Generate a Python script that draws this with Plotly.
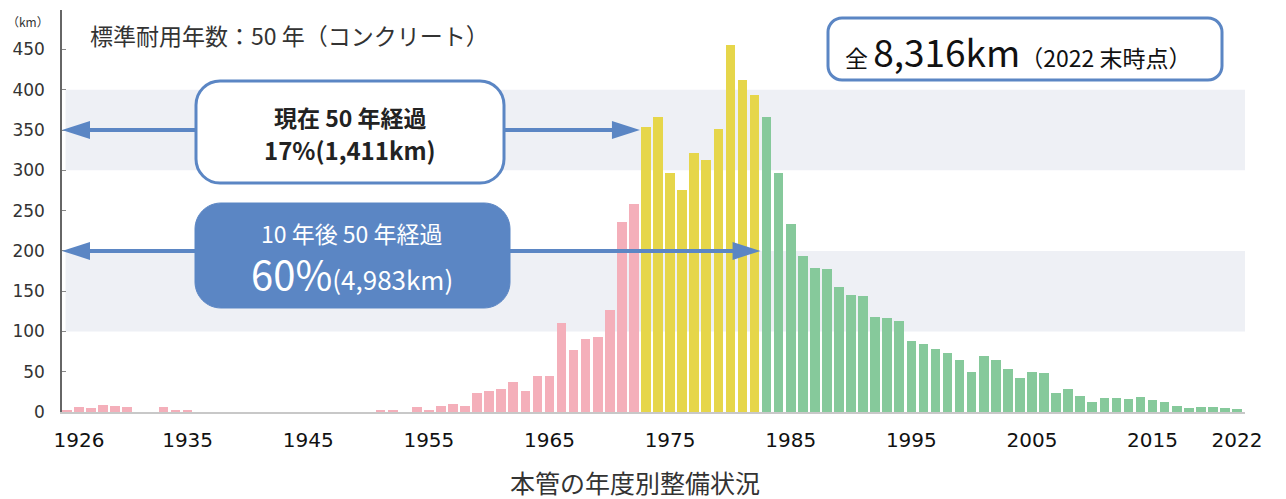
import plotly.graph_objects as go

# ---------------- data (km per fiscal year) ----------------
years_pink = list(range(1925, 1973))
km_pink = [3, 6, 5, 9, 8, 6, 0, 0, 6, 3, 3,
           0, 0, 0, 0, 0, 0, 0, 0, 0, 0, 0, 0, 0, 0, 0,
           3, 3, 0, 6, 2, 8, 10, 8, 24, 26, 29, 37, 26, 45, 45, 111, 77, 91, 93, 126, 236, 258]
years_yellow = list(range(1973, 1983))
km_yellow = [354, 366, 297, 275, 322, 313, 351, 455, 412, 393]
years_green = list(range(1983, 2023))
km_green = [366, 297, 233, 194, 179, 178, 155, 145, 144, 118, 117, 113, 88, 84, 78, 73, 65, 50, 69, 65,
            53, 42, 50, 49, 24, 29, 20, 13, 17, 17, 16, 19, 15, 13, 8, 5, 6, 6, 5, 4]
x_ticks = [1926, 1935, 1945, 1955, 1965, 1975, 1985, 1995, 2005, 2015, 2022]
y_ticks = [0, 50, 100, 150, 200, 250, 300, 350, 400, 450]
bands = [(100, 200), (300, 400)]
now_boundary = 1972.5      # built up to 1972 -> 50 years old now
future_boundary = 1982.5   # built up to 1982 -> 50 years old in 10 years

# ---------------- layout geometry ----------------
OFF = 8                      # page body margin
W, H = 1286 - OFF, 499 - OFF
# plot area in page pixels: x 62..1245, y 10..412
PL, PR, PT, PB = 62, 1245, 10, 412
ML, MR, MT, MB = PL - OFF, (W + OFF) - PR, PT - OFF, (H + OFF) - PB
PW, PH = PR - PL, PB - PT
XR = [1924.585, 2022.663]
YR = [0, 499]

def px_x(p):  # page pixel -> paper
    return (p - PL) / PW

def px_y(p):
    return (PB - p) / PH

def dx2px(v):  # data -> page pixel
    return PL + (v - XR[0]) / (XR[1] - XR[0]) * PW

def dy2px(v):
    return PB - (v - YR[0]) / (YR[1] - YR[0]) * PH

def pt(x, y):
    return f"{px_x(x):.5f},{px_y(y):.5f}"

def rrect(x0, y0, x1, y1, r):
    k = 0.5523 * r
    return (f"M {pt(x0 + r, y0)} L {pt(x1 - r, y0)} "
            f"C {pt(x1 - r + k, y0)} {pt(x1, y0 + r - k)} {pt(x1, y0 + r)} "
            f"L {pt(x1, y1 - r)} "
            f"C {pt(x1, y1 - r + k)} {pt(x1 - r + k, y1)} {pt(x1 - r, y1)} "
            f"L {pt(x0 + r, y1)} "
            f"C {pt(x0 + r - k, y1)} {pt(x0, y1 - r + k)} {pt(x0, y1 - r)} "
            f"L {pt(x0, y0 + r)} "
            f"C {pt(x0, y0 + r - k)} {pt(x0 + r - k, y0)} {pt(x0 + r, y0)} Z")

BLUE = "#5B86C4"
JP = "Noto Sans CJK JP"

fig = go.Figure()
for xs, ys, col in [(years_pink, km_pink, "#F4AFBA"),
                    (years_yellow, km_yellow, "#E6D64A"),
                    (years_green, km_green, "#86C99B")]:
    fig.add_trace(go.Bar(x=xs, y=ys, marker=dict(color=col, line=dict(width=0)),
                         width=0.8, showlegend=False))

shapes = []
for lo, hi in bands:
    shapes.append(dict(type="rect", xref="paper", yref="y", x0=0.003, x1=1, y0=lo, y1=hi,
                       fillcolor="#EEF0F5", line=dict(width=0), layer="below"))

def arrow(y_val, tip_x_val):
    y = dy2px(y_val)
    xl = PL
    xr = dx2px(tip_x_val)
    hl, hw = 28, 9
    out = [dict(type="line", xref="paper", yref="paper", x0=px_x(xl + hl - 2), x1=px_x(xr - hl + 2),
                y0=px_y(y), y1=px_y(y), line=dict(color=BLUE, width=4))]
    out.append(dict(type="path", xref="paper", yref="paper",
                    path=f"M {pt(xl, y)} L {pt(xl + hl, y - hw)} L {pt(xl + hl, y + hw)} Z",
                    fillcolor=BLUE, line=dict(width=0)))
    out.append(dict(type="path", xref="paper", yref="paper",
                    path=f"M {pt(xr, y)} L {pt(xr - hl, y - hw)} L {pt(xr - hl, y + hw)} Z",
                    fillcolor=BLUE, line=dict(width=0)))
    return out

shapes += arrow(350, now_boundary)
shapes += arrow(200, future_boundary)

# boxes
shapes.append(dict(type="path", xref="paper", yref="paper", path=rrect(196, 81, 504, 183, 24),
                   fillcolor="white", line=dict(color=BLUE, width=3)))
shapes.append(dict(type="path", xref="paper", yref="paper", path=rrect(195, 203, 510, 308, 26),
                   fillcolor=BLUE, line=dict(color=BLUE, width=1)))
shapes.append(dict(type="path", xref="paper", yref="paper", path=rrect(828, 18, 1222, 80, 14),
                   fillcolor="white", line=dict(color=BLUE, width=3)))

ann = []
def txt(x, y, text, size, color="#222", family=JP, xanchor="center"):
    ann.append(dict(xref="paper", yref="paper", x=px_x(x), y=px_y(y), text=text, showarrow=False,
                    xanchor=xanchor, yanchor="middle", font=dict(size=size, color=color, family=family)))

txt(28, 21, "（km）", 12, "#333")
txt(88, 35, "標準耐用年数：50 年（コンクリート）", 23, "#333", xanchor="left")
txt(350, 117, "<b>現在 50 年経過</b>", 23)
txt(350, 149, "<b>17%(1,411km)</b>", 24)
txt(352, 233, "10 年後 50 年経過", 23, "white")
txt(352, 273, "<span style='font-size:40px'>60%</span>(4,983km)", 26, "white")
txt(1018, 51, "全 <span style='font-size:37px'>8,316km</span>（2022 末時点）", 23, "#111")
txt(635, 482, "本管の年度別整備状況", 25, "#333")

fig.update_layout(
    width=W, height=H,
    margin=dict(l=ML, r=MR, t=MT, b=MB, pad=0),
    plot_bgcolor="white", paper_bgcolor="white",
    bargap=0, shapes=shapes, annotations=ann, showlegend=False,
    xaxis=dict(range=XR, tickvals=x_ticks, ticktext=[str(v) for v in x_ticks], showgrid=False,
               zeroline=False, showline=True, linecolor="#C8C8C8", linewidth=2, ticks="",
               ticklabelstandoff=9,
               tickfont=dict(family="DejaVu Sans", size=20, color="#111")),
    yaxis=dict(range=YR, tickvals=y_ticks, showgrid=False, zeroline=False, showline=True,
               linecolor="#666", linewidth=1.5, ticks="inside", ticklen=4, tickcolor="#888",
               ticklabelstandoff=12,
               tickfont=dict(family="DejaVu Sans", size=17, color="#333")),
)

fig.write_html("out.html")
